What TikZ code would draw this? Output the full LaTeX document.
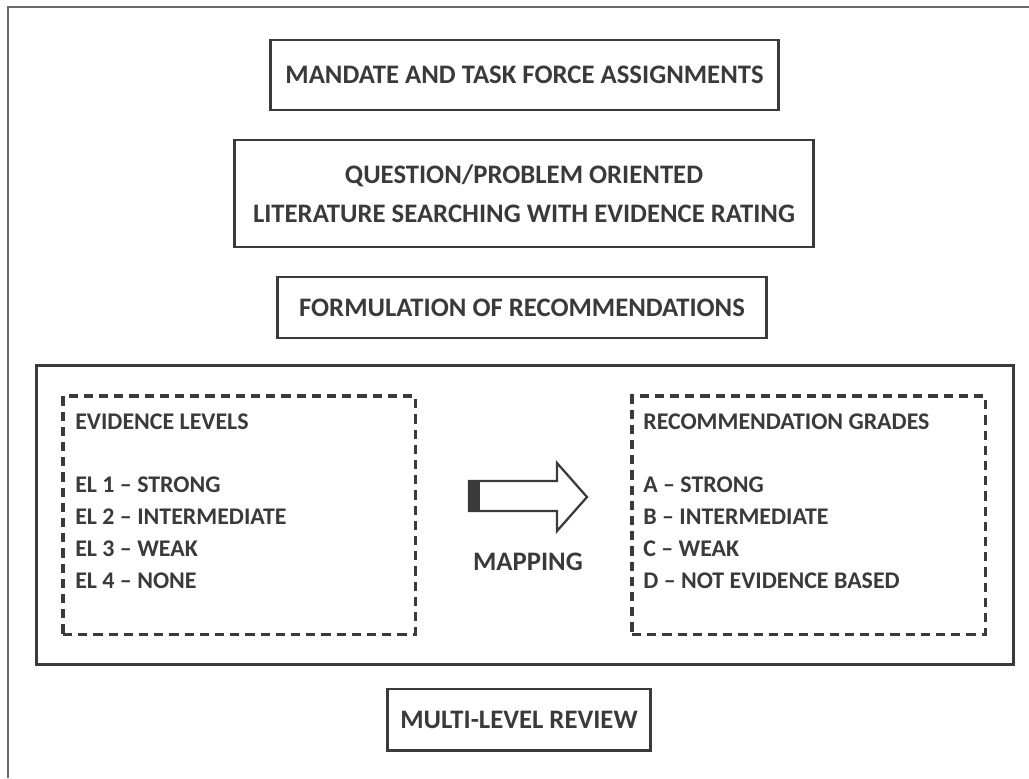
\documentclass[tikz,border=0pt]{standalone}
\usepackage{fontspec}
\setmainfont{Carlito}
\usetikzlibrary{positioning}
\definecolor{inkgray}{HTML}{3A3A3A}
\definecolor{framegray}{HTML}{6A6A6A}
\newcommand{\bigtext}{\fontsize{19}{27.6}\selectfont\bfseries}
\newcommand{\smalltext}{\fontsize{17}{20}\selectfont\bfseries}

\tikzset{
  stepbox/.style={draw=inkgray, line width=2.1pt, text=inkgray, font=\bigtext, align=center, inner sep=0pt},
  groupbox/.style={draw=inkgray, line width=2.1pt, inner sep=0pt},
  dashbox/.style={draw=inkgray, line width=2.2pt, dash pattern=on 0.23cm off 0.15cm, inner sep=0pt},
  listtext/.style={text=inkgray, font=\smalltext, anchor=base west, inner sep=0pt}
}

\begin{document}
\begin{tikzpicture}[x=0.025cm, y=-0.025cm]
            \useasboundingbox (0,0) rectangle (1029,778);
            \draw[framegray, line width=1.4pt] (8,778) -- (8,7) -- (1029,7);
            % steps
            \node[stepbox, minimum width=12.675cm, minimum height=1.75cm] (mandate) at (524.5,75) {MANDATE AND TASK FORCE ASSIGNMENTS};
            \node[stepbox, minimum width=14.45cm, minimum height=2.675cm] (search) at (524,193.5) {QUESTION/PROBLEM ORIENTED\\LITERATURE SEARCHING WITH EVIDENCE RATING};
            \node[stepbox, minimum width=12.2cm, minimum height=1.525cm] (formul) at (522,307.5) {FORMULATION OF RECOMMENDATIONS};
            \node[groupbox, minimum width=24.4cm, minimum height=7.45cm] (group) at (525,515) {};
            \node[stepbox, minimum width=6.55cm, minimum height=1.525cm] (review) at (519,719.5) {MULTI-LEVEL REVIEW};
            % evidence levels and grades
            \node[dashbox, minimum width=8.8cm, minimum height=5.95cm] (levels) at (239,515) {};
            \node[dashbox, minimum width=8.825cm, minimum height=5.95cm] (grades) at (808.5,515) {};
            \node[listtext] (levtitle) at (75,429) {EVIDENCE LEVELS};
            \node[listtext] (gradtitle) at (643,429) {RECOMMENDATION GRADES};
            \foreach \i/\lev/\grad in {0/EL 1 – STRONG/A – STRONG, 1/EL 2 – INTERMEDIATE/B – INTERMEDIATE, 2/EL 3 – WEAK/C – WEAK, 3/EL 4 – NONE/D – NOT EVIDENCE BASED}
            {
              \node[listtext] (lev\i) at (75,492+32*\i) {\lev};
              \node[listtext] (grad\i) at (643,492+32*\i) {\grad};
            }
            % mapping arrow
            \draw[inkgray, line width=1.6pt, line join=miter] (469,481) -- (557,481) -- (557,463) -- (587,497) -- (557,531) -- (557,511) -- (469,511) -- cycle;
            \fill[inkgray] (469,481) rectangle (480,511);
            \node[text=inkgray, font=\bigtext, anchor=base, inner sep=0pt] (mapping) at (528,570) {MAPPING};
        \end{tikzpicture}
\end{document}
